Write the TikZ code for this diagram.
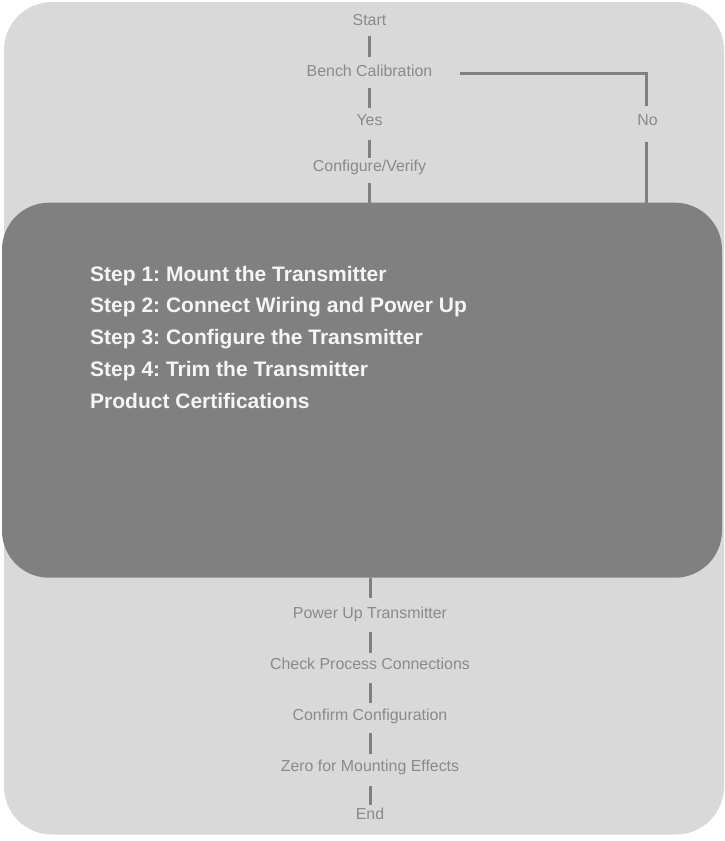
\documentclass[tikz,border=0pt]{standalone}
\usepackage{fontspec}
\setmainfont{Liberation Sans}
\frenchspacing
\usetikzlibrary{calc}
\definecolor{bglight}{RGB}{217,217,217}
\definecolor{boxdark}{RGB}{128,128,128}
\definecolor{linegray}{RGB}{128,128,128}
\definecolor{flowtext}{RGB}{138,138,138}
\definecolor{steptext}{RGB}{245,245,245}
\tikzset{
  flow/.style={inner sep=0pt, anchor=base, text=flowtext, font=\fontsize{15.9}{19}\selectfont},
  stepline/.style={inner sep=0pt, anchor=base west, text=steptext, font=\fontsize{21}{25}\selectfont\bfseries},
  conn/.style={draw=linegray, line width=3pt},
  darkbox/.style={fill=boxdark, rounded corners=47pt, inner sep=0pt, minimum width=720pt, minimum height=375pt},
}
\begin{document}
\begin{tikzpicture}[x=1pt,y=-1pt]
\useasboundingbox (0,0) rectangle (725,841);
\fill[bglight, rounded corners=48pt] (4,2) rectangle (724,834.5);

% top flow
\node[flow] (start) at (369.5,25) {Start};
\node[flow] (bench) at (369.5,76) {Bench Calibration};
\node[flow] (yes) at (369.5,125.7) {Yes};
\node[flow] (no) at (647.5,125.7) {No};
\node[flow] (conf) at (369.5,171.7) {Configure/Verify};

% steps box
\node[darkbox] (steps) at (362,390.2) {};

\draw[conn] ([yshift=-11pt]start.base) -- ([yshift=19pt]bench.base);
\draw[conn] ([yshift=-12pt]bench.base) -- ([yshift=17.7pt]yes.base);
\draw[conn] ([yshift=-14.3pt]yes.base) -- ([yshift=13.7pt]conf.base);
\draw[conn] ([yshift=-11.3pt]conf.base) -- (conf.base |- steps.north);
\draw[conn, line cap=butt, line join=miter] ([shift={(28pt,2.7pt)}]bench.base east) -| ([xshift=-0.8pt,yshift=19.7pt]no.base);
\draw[conn] ([xshift=-0.8pt,yshift=-16pt]no.base) -- ([xshift=-0.8pt]no.base |- steps.north);

% step texts
\node[stepline] (s1) at (90,281) {Step 1: Mount the Transmitter};
\node[stepline] (s2) at (90,312.8) {Step 2: Connect Wiring and Power Up};
\node[stepline] (s3) at (90,344.6) {Step 3: Configure the Transmitter};
\node[stepline] (s4) at (90,376.4) {Step 4: Trim the Transmitter};
\node[stepline] (s5) at (90,408.2) {Product Certifications};

% bottom flow
\node[flow] (power) at (370,618.7) {Power Up Transmitter};
\node[flow] (check) at (370,669.3) {Check Process Connections};
\node[flow] (confirm) at (370,720) {Confirm Configuration};
\node[flow] (zero) at (370,771.7) {Zero for Mounting Effects};
\node[flow] (end) at (370,819.3) {End};

\draw[conn] (power.base |- steps.south) -- ([yshift=20.7pt]power.base);
\draw[conn] ([yshift=-13.3pt]power.base) -- ([yshift=16.3pt]check.base);
\draw[conn] ([yshift=-13.7pt]check.base) -- ([yshift=17pt]confirm.base);
\draw[conn] ([yshift=-13pt]confirm.base) -- ([yshift=18pt]zero.base);
\draw[conn] ([yshift=-14.3pt]zero.base) -- ([yshift=14.3pt]end.base);
\end{tikzpicture}
\end{document}
